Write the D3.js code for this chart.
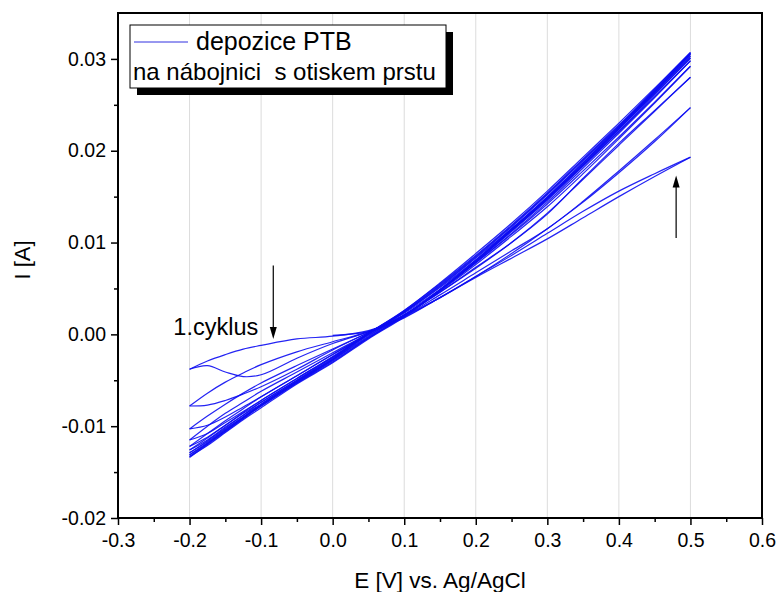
<!DOCTYPE html>
<html lang="cs">
<head>
<meta charset="utf-8">
<title>depozice PTB</title>
<script src="https://cdn.jsdelivr.net/npm/d3@7"></script>
<style>
  body { margin: 0; background: #fff; }
  svg text { font-family: "Liberation Sans", Arial, sans-serif; fill: #000; }
  .grid line { stroke: #dcdcdc; stroke-width: 1; }
  .axis path, .axis line { stroke: #000; }
  .cv { fill: none; stroke: #0c0cf2; stroke-width: 1.2; stroke-opacity: 0.9; }
</style>
</head>
<body>
<div id="chart"></div>
<script>
// potential grid (V) shared by all sweeps
var E = [-0.2, -0.175, -0.15, -0.125, -0.1, -0.05, 0, 0.05, 0.1, 0.15, 0.2, 0.25, 0.3, 0.35, 0.4, 0.45, 0.5];

// current in mA (ascending E order)
var fwd1 = [null, null, null, null, null, null, -0.1, 0.3, 1.8, 4.0, 6.2, 8.3, 10.4, 12.7, 15.0, 17.2, 19.3];
var rev1 = [-3.8, -2.9, -2.2, -1.6, -1.2, -0.5, -0.2, 0.4, 1.9, 4.0, 6.3, 8.6, 11.0, 13.4, 15.6, 17.5, 19.3];
var fwd2 = [-3.8, -3.4, -4.1, -4.6, -4.4, -2.6, -1.0, 0.3, 2.0, 4.3, 6.7, 9.1, 11.5, 14.5, 17.8, 21.2, 24.7];
var rev2 = [-7.8, -6.4, -5.2, -4.2, -3.3, -1.9, -0.8, 0.3, 2.0, 4.0, 6.3, 8.8, 11.5, 14.4, 17.6, 21.0, 24.7];
var fwd3 = [-7.8, -7.7, -7.2, -6.5, -5.7, -3.8, -1.7, 0.2, 2.1, 4.6, 7.3, 10.0, 13.1, 17.0, 20.8, 24.4, 28.0];
var rev3 = [-10.3, -8.9, -7.6, -6.4, -5.3, -3.4, -1.6, 0.2, 2.1, 4.6, 7.2, 10.0, 13.2, 16.9, 20.6, 24.3, 28.0];
var fwd4 = [-10.3, -9.9, -9.0, -7.9, -6.8, -4.5, -2.2, 0.0, 2.1, 4.7, 7.6, 10.7, 13.9, 17.5, 21.3, 25.2, 29.2];
var rev4 = [-11.5, -10.0, -8.6, -7.4, -6.2, -4.1, -2.0, 0.1, 2.3, 4.9, 7.8, 10.9, 14.2, 17.8, 21.5, 25.3, 29.2];
var fwd5 = [-11.5, -10.8, -9.6, -8.4, -7.2, -4.8, -2.5, -0.1, 2.1, 4.8, 7.8, 11.0, 14.4, 18.1, 21.9, 25.8, 29.8];
var rev5 = [-12.2, -10.8, -9.4, -8.1, -6.8, -4.5, -2.2, 0.1, 2.4, 5.1, 8.1, 11.3, 14.8, 18.4, 22.1, 25.9, 29.8];
var fwd6 = [-12.2, -11.2, -9.9, -8.6, -7.4, -5.0, -2.7, -0.2, 2.1, 4.8, 7.9, 11.2, 14.6, 18.3, 22.1, 26.1, 30.1];
var rev6 = [-12.6, -11.3, -9.9, -8.5, -7.2, -4.8, -2.4, 0.1, 2.4, 5.2, 8.3, 11.5, 15.0, 18.7, 22.4, 26.2, 30.1];
var fwd7 = [-12.6, -11.5, -10.1, -8.8, -7.6, -5.1, -2.8, -0.3, 2.0, 4.8, 7.9, 11.3, 14.7, 18.4, 22.3, 26.3, 30.3];
var rev7 = [-12.9, -11.6, -10.2, -8.8, -7.4, -5.0, -2.5, 0.1, 2.5, 5.3, 8.4, 11.7, 15.2, 18.9, 22.6, 26.4, 30.3];
var fwd8 = [-12.9, -11.7, -10.3, -9.0, -7.7, -5.2, -2.9, -0.4, 2.0, 4.8, 8.0, 11.4, 14.8, 18.5, 22.4, 26.4, 30.5];
var rev8 = [-13.1, -11.8, -10.4, -9.0, -7.6, -5.1, -2.6, 0.1, 2.5, 5.4, 8.5, 11.8, 15.3, 19.0, 22.7, 26.5, 30.5];
var fwd9 = [-13.1, -11.9, -10.5, -9.1, -7.8, -5.3, -3.0, -0.4, 2.0, 4.9, 8.1, 11.5, 14.9, 18.6, 22.5, 26.5, 30.6];
var rev9 = [-13.3, -11.9, -10.5, -9.1, -7.7, -5.2, -2.7, 0.1, 2.6, 5.5, 8.6, 11.9, 15.4, 19.1, 22.8, 26.6, 30.6];
var fwd10 = [-13.3, -12.1, -10.7, -9.3, -8.0, -5.4, -3.1, -0.5, 1.9, 4.8, 8.0, 11.4, 14.9, 18.7, 22.6, 26.7, 30.7];
var rev10 = [-13.4, -12.0, -10.6, -9.2, -7.8, -5.3, -2.8, 0.0, 2.6, 5.6, 8.8, 12.1, 15.6, 19.3, 23.0, 26.8, 30.7];

var sweeps = [fwd1, rev1, fwd2, rev2, fwd3, rev3, fwd4, rev4, fwd5, rev5,
              fwd6, rev6, fwd7, rev7, fwd8, rev8, fwd9, rev9, fwd10, rev10];

var xTicks = [-0.3, -0.2, -0.1, 0.0, 0.1, 0.2, 0.3, 0.4, 0.5, 0.6];
var yTicks = [-0.02, -0.01, 0.00, 0.01, 0.02, 0.03];
var legendLines = ["depozice PTB", "na nábojnici  s otiskem prstu"];

var width = 778, height = 592;
var margin = {top: 13, right: 16, bottom: 74, left: 118};

var svg = d3.select("#chart").append("svg")
    .attr("width", width)
    .attr("height", height);

var x = d3.scaleLinear().domain([-0.3, 0.6]).range([margin.left, width - margin.right]);
var y = d3.scaleLinear().domain([-0.02, 0.035]).range([height - margin.bottom, margin.top]);

// vertical grid
svg.append("g").attr("class", "grid")
  .selectAll("line")
  .data(xTicks.slice(1, -1))
  .enter().append("line")
    .attr("x1", function(d) { return x(d); })
    .attr("x2", function(d) { return x(d); })
    .attr("y1", y.range()[0])
    .attr("y2", y.range()[1]);

// curves
var line = d3.line()
    .defined(function(d) { return d[1] != null; })
    .x(function(d) { return x(d[0]); })
    .y(function(d) { return y(d[1] / 1000); })
    .curve(d3.curveCatmullRom);

svg.append("g")
  .selectAll("path")
  .data(sweeps)
  .enter().append("path")
    .attr("class", "cv")
    .attr("d", function(s) { return line(s.map(function(v, i) { return [E[i], v]; })); });

// axes
var xAxis = svg.append("g").attr("class", "axis")
    .attr("transform", "translate(0," + y.range()[0] + ")")
    .call(d3.axisBottom(x).tickValues(xTicks).tickSize(7).tickSizeOuter(0)
      .tickFormat(function(d) { return d.toFixed(1); }));
svg.append("g").attr("class", "axis")
    .attr("transform", "translate(0," + y.range()[0] + ")")
    .call(d3.axisBottom(x).tickValues(d3.range(-0.25, 0.6, 0.1)).tickSize(4).tickFormat(""))
    .select(".domain").remove();

var yAxis = svg.append("g").attr("class", "axis")
    .attr("transform", "translate(" + x.range()[0] + ",0)")
    .call(d3.axisLeft(y).tickValues(yTicks).tickSize(7).tickSizeOuter(0)
      .tickFormat(function(d) { return d.toFixed(2); }));
svg.append("g").attr("class", "axis")
    .attr("transform", "translate(" + x.range()[0] + ",0)")
    .call(d3.axisLeft(y).tickValues([-0.015, -0.005, 0.005, 0.015, 0.025]).tickSize(4).tickFormat(""))
    .select(".domain").remove();

svg.selectAll(".axis line").attr("stroke-width", 1.5);
xAxis.selectAll("text").attr("font-size", 19.5).attr("dy", "0.95em");
yAxis.selectAll("text").attr("font-size", 19.5).attr("x", -12);

// frame
svg.append("rect")
    .attr("x", x.range()[0])
    .attr("y", y.range()[1])
    .attr("width", x.range()[1] - x.range()[0])
    .attr("height", y.range()[0] - y.range()[1])
    .attr("fill", "none")
    .attr("stroke", "#000")
    .attr("stroke-width", 2);

// axis titles
svg.append("text")
    .attr("x", 440)
    .attr("y", 588)
    .attr("text-anchor", "middle")
    .attr("font-size", 22.5)
    .text("E [V] vs. Ag/AgCl");

svg.append("text")
    .attr("transform", "translate(30," + y(0.0081) + ") rotate(-90)")
    .attr("text-anchor", "middle")
    .attr("font-size", 22)
    .text("I [A]");

// legend
var lg = svg.append("g").attr("transform", "translate(130,25)");
lg.append("rect").attr("x", 7).attr("y", 7).attr("width", 316).attr("height", 63).attr("fill", "#000");
lg.append("rect").attr("width", 316).attr("height", 63).attr("fill", "#fff").attr("stroke", "#000").attr("stroke-width", 1);
lg.append("line").attr("x1", 4).attr("x2", 58).attr("y1", 17).attr("y2", 17)
    .attr("stroke", "#3030e0").attr("stroke-width", 1);
lg.append("text").attr("x", 66).attr("y", 25).attr("font-size", 25).text(legendLines[0]);
lg.append("text").attr("x", 3).attr("y", 55).attr("font-size", 24)
    .attr("xml:space", "preserve").style("white-space", "pre").text(legendLines[1]);

// annotations
function arrow(e, i0, i1) {
  var xa = x(e), ya = y(i0), yb = y(i1);
  var dir = yb > ya ? 1 : -1;
  svg.append("line").attr("x1", xa).attr("x2", xa).attr("y1", ya).attr("y2", yb - dir * 10)
      .attr("stroke", "#000").attr("stroke-width", 1.2);
  svg.append("path")
      .attr("d", "M" + (xa - 3.5) + "," + (yb - dir * 12) + "L" + (xa + 3.5) + "," + (yb - dir * 12) + "L" + xa + "," + yb + "Z")
      .attr("fill", "#000");
}
arrow(-0.083, 0.0075, -0.0005);
arrow(0.48, 0.0105, 0.0173);

svg.append("text")
    .attr("x", x(-0.104))
    .attr("y", y(-0.0001))
    .attr("text-anchor", "end")
    .attr("font-size", 23.5)
    .text("1.cyklus");
</script>
</body>
</html>
